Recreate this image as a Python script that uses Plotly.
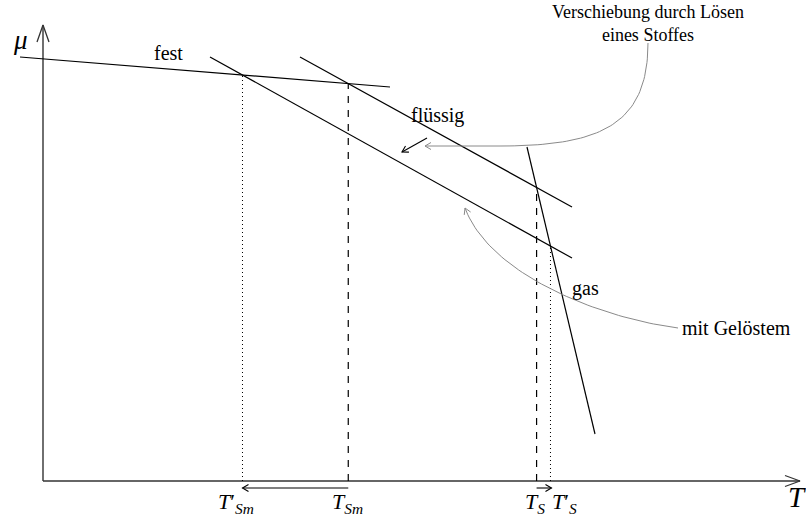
import numpy as np
import plotly.graph_objects as go

# ---- data (T, mu) in diagram units ----
fest_T = [-0.23, 3.47]
fest_mu = [4.24, 3.94]
fluessig_T = [2.57, 5.29]
fluessig_mu = [4.24, 2.74]
geloest_T = [1.67, 5.29]
geloest_mu = [4.24, 2.23]
gas_T = [4.84, 5.52]
gas_mu = [3.34, 0.47]

axis_T_max = 7.57
axis_mu_max = 4.56

shift_T = [3.84, 3.59]          # small black arrow
shift_mu = [3.43, 3.29]

verschiebung_ctrl_T = [6.05, 6.05, 5.57, 4.57]
verschiebung_ctrl_mu = [4.38, 3.56, 3.35, 3.35]
verschiebung_end = [3.82, 3.35]

geloest_ctrl_T = [6.35, 5.57, 4.47, 4.22]
geloest_ctrl_mu = [1.53, 1.63, 2.06, 2.73]

below_mu = -0.07
label_mu = -0.22

BLACK = "#000000"
GRAY = "#8a8a8a"
SERIF = "Liberation Serif"


def intersect(aT, amu, bT, bmu):
    p = np.array([aT[0], amu[0]]); r = np.array([aT[1] - aT[0], amu[1] - amu[0]])
    q = np.array([bT[0], bmu[0]]); s = np.array([bT[1] - bT[0], bmu[1] - bmu[0]])
    t = np.cross(q - p, s) / np.cross(r, s)
    return p + t * r


def bezier(cT, cmu, n=60):
    t = np.linspace(0, 1, n)
    b = [(1 - t) ** 3, 3 * (1 - t) ** 2 * t, 3 * (1 - t) * t ** 2, t ** 3]
    return sum(b[i] * cT[i] for i in range(4)), sum(b[i] * cmu[i] for i in range(4))


def head(tip, frm, length, half):
    tip = np.array(tip, float); d = tip - np.array(frm, float)
    d = d / np.linalg.norm(d); nrm = np.array([-d[1], d[0]])
    b1 = tip - d * length + nrm * half
    b2 = tip - d * length - nrm * half
    return [b1[0], tip[0], b2[0]], [b1[1], tip[1], b2[1]]


fig = go.Figure()


def line(x, y, color=BLACK, width=1.2, dash="solid"):
    fig.add_trace(go.Scatter(x=list(x), y=list(y), mode="lines", hoverinfo="skip",
                             line=dict(color=color, width=width, dash=dash)))


# intersections
p_sm = intersect(fest_T, fest_mu, fluessig_T, fluessig_mu)
p_sm2 = intersect(fest_T, fest_mu, geloest_T, geloest_mu)
p_s = intersect(gas_T, gas_mu, fluessig_T, fluessig_mu)
p_s2 = intersect(gas_T, gas_mu, geloest_T, geloest_mu)

# axes
line([0, axis_T_max], [0, 0], color="#333333", width=1.6)
line([0, 0], [0, axis_mu_max], color="#333333", width=1.4)
hx, hy = head([axis_T_max, 0], [0, 0], 0.15, 0.055)
line(hx, hy, color="#333333", width=1.3)
hx, hy = head([0, axis_mu_max], [0, 0], 0.17, 0.06)
line(hx, hy, color="#333333", width=1.3)

# vertical helper lines
line([p_sm[0], p_sm[0]], [0, p_sm[1]], dash="7px,7px", width=1.2)
line([p_s[0], p_s[0]], [0, p_s[1]], dash="7px,7px", width=1.2)
line([p_sm2[0], p_sm2[0]], [0, p_sm2[1]], dash="1px,3px", width=1.0)
line([p_s2[0], p_s2[0]], [0, p_s2[1]], dash="1px,3px", width=1.0)

# phase lines
line(fest_T, fest_mu)
line(fluessig_T, fluessig_mu)
line(geloest_T, geloest_mu)
line(gas_T, gas_mu)

# small black shift arrow
line(shift_T, shift_mu, width=1.1)
hx, hy = head([shift_T[1], shift_mu[1]], [shift_T[0], shift_mu[0]], 0.06, 0.035)
line(hx, hy, width=1.1)

# gray annotation curves
bx, by = bezier(verschiebung_ctrl_T, verschiebung_ctrl_mu)
line(list(bx) + [verschiebung_end[0]], list(by) + [verschiebung_end[1]], color=GRAY, width=1.0)
hx, hy = head(verschiebung_end, [verschiebung_ctrl_T[3], verschiebung_ctrl_mu[3]], 0.06, 0.035)
line(hx, hy, color=GRAY, width=1.0)

gx, gy = bezier(geloest_ctrl_T, geloest_ctrl_mu)
line(gx, gy, color=GRAY, width=1.0)
hx, hy = head([gx[-1], gy[-1]], [gx[-4], gy[-4]], 0.06, 0.035)
line(hx, hy, color=GRAY, width=1.0)

# arrows below the T axis
line([p_sm[0], p_sm2[0]], [below_mu, below_mu], width=1.1)
hx, hy = head([p_sm2[0], below_mu], [p_sm[0], below_mu], 0.06, 0.035)
line(hx, hy, width=1.1)
line([p_s[0], p_s2[0] + 0.01], [below_mu, below_mu], width=1.1)
hx, hy = head([p_s2[0] + 0.01, below_mu], [p_s[0], below_mu], 0.06, 0.035)
line(hx, hy, width=1.1)


def text(x, y, s, size=20, xanchor="center"):
    fig.add_annotation(x=x, y=y, text=s, showarrow=False, xanchor=xanchor, yanchor="middle",
                       font=dict(family=SERIF, size=size, color=BLACK))


text(1.25, 4.28, "fest")
text(3.94, 3.66, "flüssig")
text(5.42, 1.93, "gas")
text(6.37, 1.53, "mit Gelöstem", xanchor="left")
text(6.045, 4.575, "Verschiebung durch Lösen<br>eines Stoffes", size=18)
text(-0.23, 4.41, "<i>μ</i>", size=27)
text(7.54, -0.16, "<i>T</i>", size=29)
text(p_sm2[0] - 0.06, label_mu, "<i>T</i>′<sub><i>Sm</i></sub>", size=22)
text(p_sm[0] - 0.01, label_mu, "<i>T</i><sub><i>Sm</i></sub>", size=22)
text(p_s[0] - 0.02, label_mu, "<i>T</i><sub><i>S</i></sub>", size=22)
text(p_s2[0] + 0.14, label_mu, "<i>T</i>′<sub><i>S</i></sub>", size=22)

fig.update_layout(
    width=806, height=519, autosize=False,
    margin=dict(l=0, r=0, t=0, b=0),
    paper_bgcolor="white", plot_bgcolor="white",
    showlegend=False,
    xaxis=dict(range=[-0.43, 7.63], visible=False, fixedrange=True),
    yaxis=dict(range=[-0.38, 4.81], visible=False, fixedrange=True),
)

fig.write_html("out.html", config={"displayModeBar": False, "staticPlot": True},
               post_script="document.body.style.margin='0';document.body.style.overflow='hidden';")
